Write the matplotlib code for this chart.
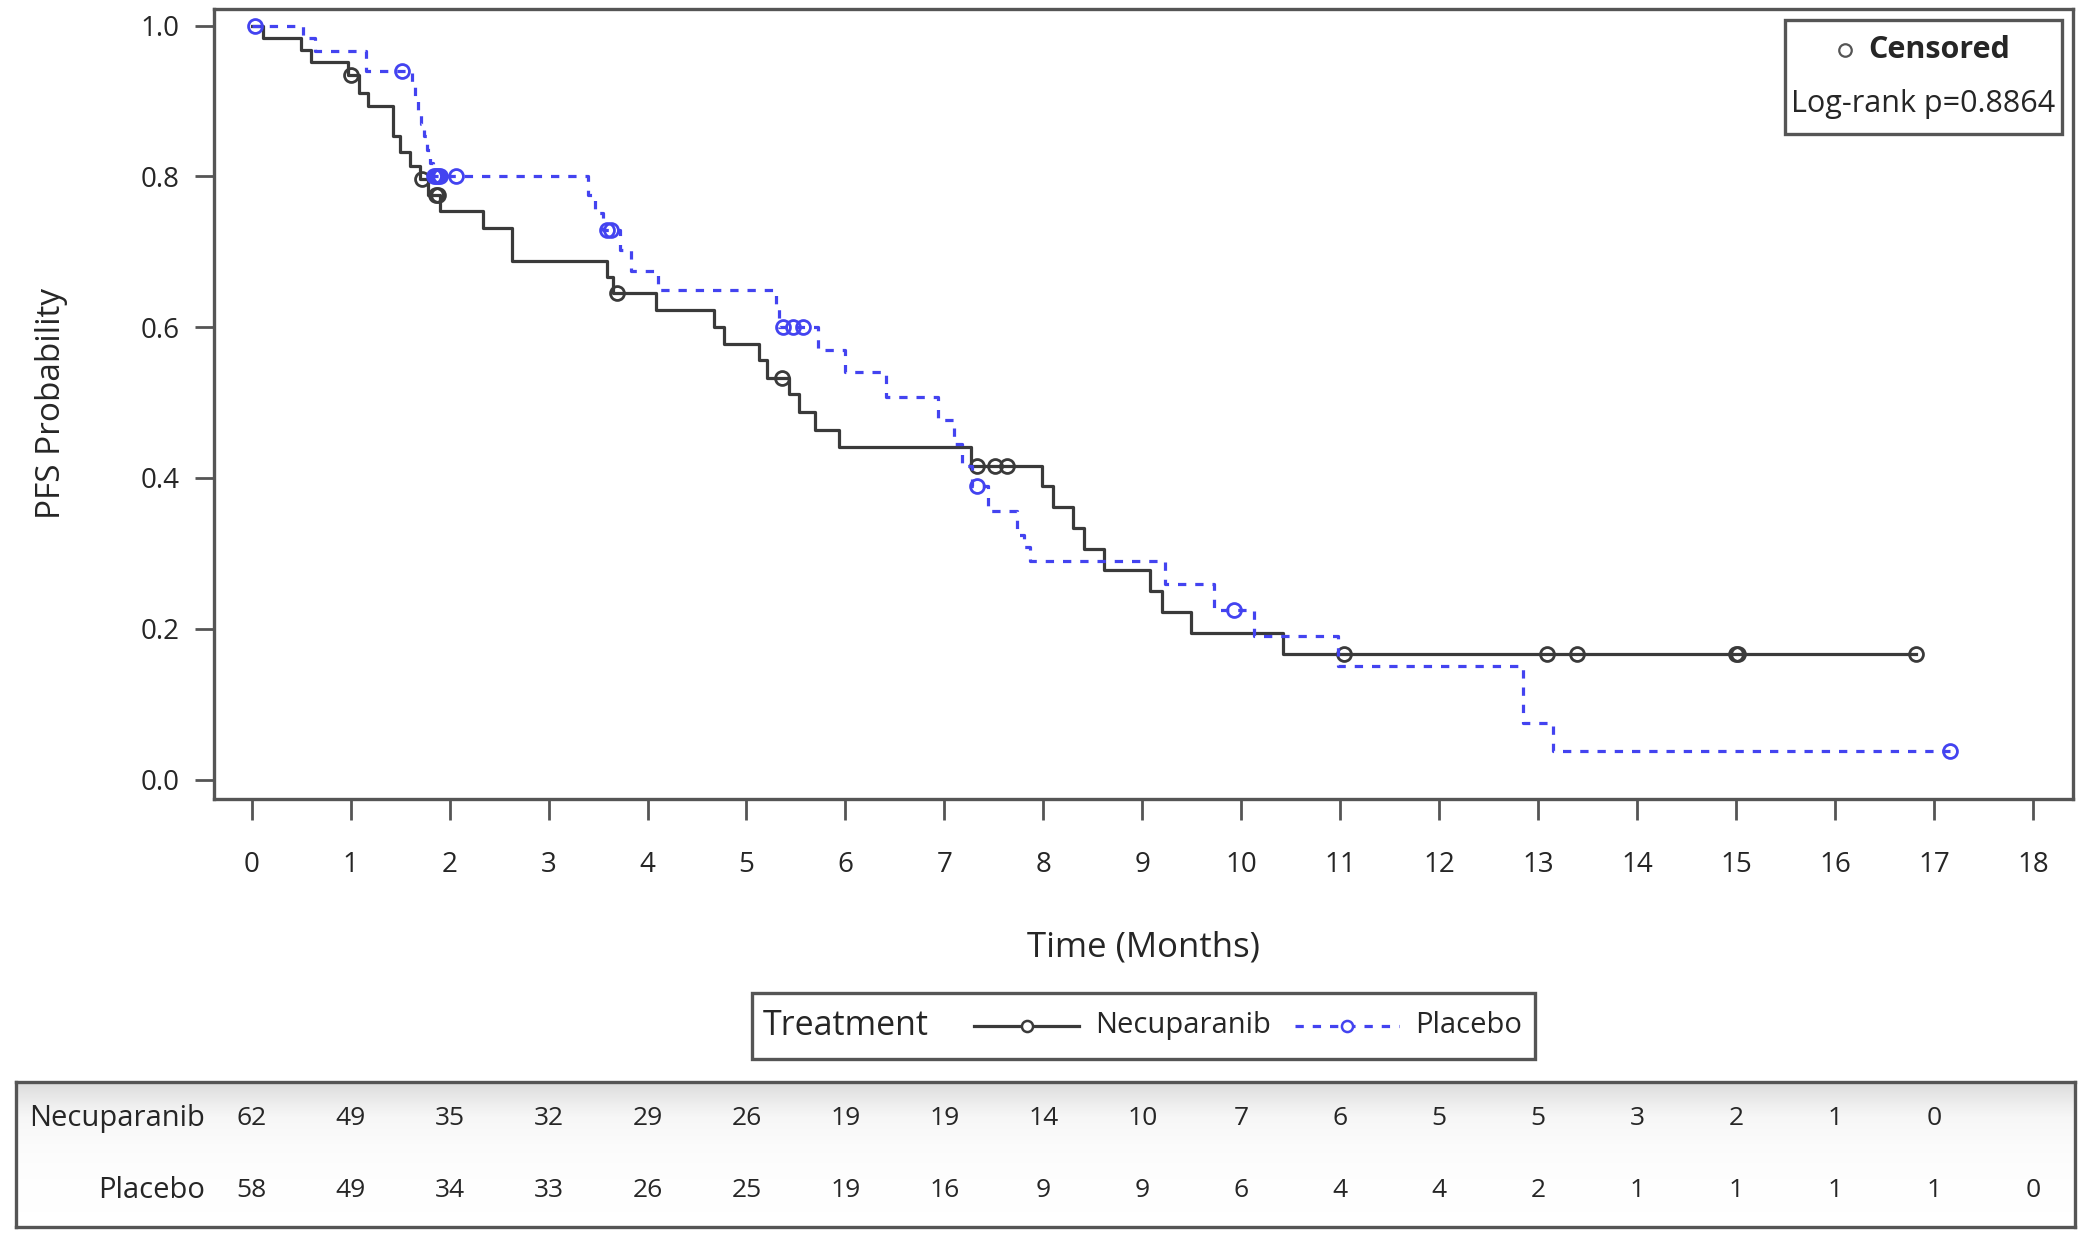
import numpy as np
import matplotlib.pyplot as plt
from matplotlib.lines import Line2D
from matplotlib.patches import Rectangle
from matplotlib.colors import LinearSegmentedColormap
from matplotlib.transforms import blended_transform_factory

plt.rcParams['font.family'] = ['Open Sans', 'DejaVu Sans']

# Kaplan-Meier step curves (event times in months, PFS after the step)
necu_t = [0, 0.12, 0.50, 0.60, 0.97, 1.08, 1.18, 1.43, 1.50, 1.60, 1.70, 1.78, 1.90,
          2.34, 2.63, 3.59, 3.65, 4.09, 4.67, 4.77, 5.13, 5.21, 5.43, 5.53, 5.69, 5.93,
          7.27, 7.99, 8.10, 8.30, 8.41, 8.61, 9.08, 9.20, 9.49, 10.42]
necu_s = [1.0, 0.984, 0.968, 0.952, 0.935, 0.911, 0.893, 0.853, 0.833, 0.814, 0.796, 0.775, 0.754,
          0.731, 0.688, 0.666, 0.645, 0.623, 0.600, 0.578, 0.556, 0.533, 0.511, 0.488, 0.464, 0.441,
          0.416, 0.389, 0.362, 0.333, 0.306, 0.278, 0.250, 0.222, 0.194, 0.167]
necu_end = 16.82
necu_cens = [1.00, 1.72, 1.86, 1.88, 3.69, 5.36, 7.33, 7.51, 7.63, 11.04, 13.09, 13.39, 15.0, 15.02, 16.82]

plac_t = [0, 0.52, 0.64, 1.16, 1.62, 1.65, 1.68, 1.71, 1.74, 1.77, 1.80, 1.83, 3.40, 3.47, 3.55,
          3.72, 3.83, 4.11, 5.30, 5.33, 5.72, 6.00, 6.41, 6.94, 7.10, 7.18, 7.28, 7.44, 7.73, 7.80,
          7.86, 9.23, 9.72, 10.13, 10.98, 12.85, 13.15]
plac_s = [1.0, 0.983, 0.966, 0.940, 0.922, 0.905, 0.887, 0.870, 0.853, 0.835, 0.818, 0.800, 0.776,
          0.752, 0.729, 0.702, 0.675, 0.650, 0.625, 0.600, 0.570, 0.540, 0.508, 0.477, 0.445, 0.416,
          0.389, 0.356, 0.325, 0.308, 0.290, 0.259, 0.225, 0.190, 0.150, 0.075, 0.0375]
plac_end = 17.16
plac_cens = [0.03, 1.52, 1.84, 1.86, 1.88, 1.90, 2.07, 3.59, 3.63, 5.37, 5.47, 5.57, 7.33, 9.93, 17.16]

# numbers at risk
risk_months = list(range(19))
necu_risk = [62, 49, 35, 32, 29, 26, 19, 19, 14, 10, 7, 6, 5, 5, 3, 2, 1, 0]
plac_risk = [58, 49, 34, 33, 26, 25, 19, 16, 9, 9, 6, 4, 4, 2, 1, 1, 1, 1, 0]

NECU_COLOR = '#3a3a3a'
PLAC_COLOR = '#4343f0'
TEXT_COLOR = '#262626'
FRAME_COLOR = '#555555'
PLAC_DASH = (2.6, 2.8)
LW = 2.3


def surv_at(times, surv, query):
    idx = np.searchsorted(times, query, side='right') - 1
    return np.asarray(surv)[idx]


fig = plt.figure(figsize=(21, 12.39), dpi=100)
ax = fig.add_axes([0.102, 0.355, 0.885, 0.638])

# curves
ax.step(necu_t + [necu_end], necu_s + [necu_s[-1]], where='post',
        color=NECU_COLOR, lw=LW, zorder=3)
ax.plot(necu_cens, surv_at(necu_t, necu_s, necu_cens), 'o', ms=10, mfc='none',
        mec=NECU_COLOR, mew=2.0, zorder=4)

ax.step(plac_t + [plac_end], plac_s + [plac_s[-1]], where='post',
        color=PLAC_COLOR, lw=LW, dashes=PLAC_DASH, zorder=5)
ax.plot(plac_cens, surv_at(plac_t, plac_s, plac_cens), 'o', ms=10, mfc='none',
        mec=PLAC_COLOR, mew=2.0, zorder=6)

ax.set_xlim(-0.378, 18.40)
ax.set_ylim(-0.026, 1.0225)
ax.set_xticks(risk_months)
ax.set_yticks([0.0, 0.2, 0.4, 0.6, 0.8, 1.0])
ax.set_yticklabels(['0.0', '0.2', '0.4', '0.6', '0.8', '1.0'])
ax.tick_params(axis='x', length=15, width=2.0, pad=22, labelsize=20,
               colors=FRAME_COLOR, labelcolor=TEXT_COLOR)
ax.tick_params(axis='y', length=14, width=2.0, pad=11, labelsize=20,
               colors=FRAME_COLOR, labelcolor=TEXT_COLOR)
for sp in ax.spines.values():
    sp.set_color(FRAME_COLOR)
    sp.set_linewidth(2.4)

ax.set_xlabel('Time (Months)', fontsize=25, color=TEXT_COLOR, va='center')
ax.xaxis.set_label_coords(0.5, -0.188)
ax.set_ylabel('PFS Probability', fontsize=24, color=TEXT_COLOR, va='center')
ax.yaxis.set_label_coords(-0.0877, 0.5)

# censored / log-rank box in the upper right
ax.add_patch(Rectangle((0.850, 0.892), 0.132, 0.092, transform=fig.transFigure,
                       fill=False, ec=FRAME_COLOR, lw=2.4, zorder=7))
fig.add_artist(Line2D([0.8786], [0.960], marker='o', ms=9, mfc='none',
                      mec='#555555', mew=1.6, ls='none'))
fig.text(0.8895, 0.960, 'Censored', fontsize=22, fontweight='bold',
         color=TEXT_COLOR, ha='left', va='center')
fig.text(0.9157, 0.916, 'Log-rank p=0.8864', fontsize=22,
         color=TEXT_COLOR, ha='center', va='center')

# treatment legend below the plot
fig.add_artist(Rectangle((0.358, 0.1453), 0.373, 0.0532, transform=fig.transFigure,
                         fill=False, ec=FRAME_COLOR, lw=2.4))
leg_y = 0.172
fig.text(0.3634, leg_y, 'Treatment', fontsize=24.5, color=TEXT_COLOR, ha='left', va='center')
fig.add_artist(Line2D([0.464, 0.514], [leg_y, leg_y], color=NECU_COLOR, lw=LW))
fig.add_artist(Line2D([0.489], [leg_y], marker='o', ms=8, mfc='white',
                      mec=NECU_COLOR, mew=1.8, ls='none'))
fig.text(0.5215, leg_y, 'Necuparanib', fontsize=21, color=TEXT_COLOR, ha='left', va='center')
fig.add_artist(Line2D([0.6165, 0.6663], [leg_y, leg_y], color=PLAC_COLOR, lw=LW, dashes=PLAC_DASH))
fig.add_artist(Line2D([0.6415], [leg_y], marker='o', ms=8, mfc='white',
                      mec=PLAC_COLOR, mew=1.8, ls='none'))
fig.text(0.674, leg_y, 'Placebo', fontsize=21, color=TEXT_COLOR, ha='left', va='center')

# number-at-risk table, white fading to light grey at the bottom
tab = fig.add_axes([0.0076, 0.0097, 0.9804, 0.117], zorder=-1)
shade = LinearSegmentedColormap.from_list('shade', ['#ffffff', '#f7f7f7', '#dcdcdc'])
grad = np.linspace(0.0, 1.0, 100) ** 2.5
tab.imshow(grad[::-1, None], aspect='auto', cmap=shade, vmin=0, vmax=1,
           extent=[0, 1, 0, 1])
tab.set_xticks([])
tab.set_yticks([])
for sp in tab.spines.values():
    sp.set_color(FRAME_COLOR)
    sp.set_linewidth(2.4)

trans = blended_transform_factory(ax.transData, fig.transFigure)
rows = [('Necuparanib', necu_risk, 0.0969), ('Placebo', plac_risk, 0.0395)]
for name, counts, y in rows:
    fig.text(0.0975, y, name, fontsize=21, color=TEXT_COLOR, ha='right', va='center')
    for m, n in zip(risk_months, counts):
        ax.text(m, y, str(n), transform=trans, fontsize=19, color=TEXT_COLOR,
                ha='center', va='center', clip_on=False)

fig.savefig('out.png', dpi=100, facecolor='white')
